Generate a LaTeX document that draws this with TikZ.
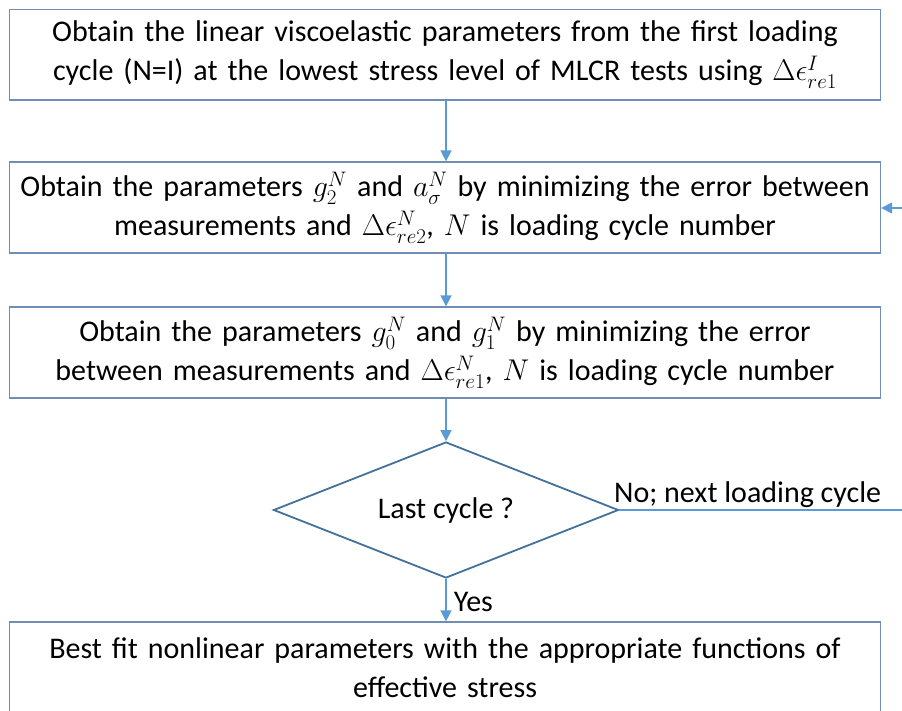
\RequirePackage{fix-cm}
\documentclass[tikz,border=0pt]{standalone}
\usepackage{fontspec}
\setmainfont{Carlito}
\usetikzlibrary{shapes.geometric,arrows.meta}
\definecolor{boxedge}{RGB}{112,141,182}
\definecolor{flowline}{RGB}{91,155,213}
\definecolor{diaedge}{RGB}{65,113,156}
\tikzset{
  txt/.style={font=\fontsize{30pt}{39pt}\selectfont},
  stepbox/.style={txt, draw=boxedge, line width=1.3pt, rectangle, inner sep=0pt,
    minimum width=871pt, text width=868pt, align=center},
  decision/.style={txt, draw=diaedge, line width=1.8pt, diamond, aspect=2.54,
    inner sep=0pt, minimum width=345pt, minimum height=136pt},
  flow/.style={draw=flowline, line width=1.6pt},
  flowarrow/.style={flow, -{Triangle[length=11pt,width=11pt]}},
  lbl/.style={txt, inner sep=0pt}
}
\begin{document}
\begin{tikzpicture}[x=1pt,y=-1pt]
  \useasboundingbox (0,0) rectangle (902,711);
  \clip (0,0) rectangle (902,711);

  \node[stepbox, minimum height=90.5pt] (s1) at (445,54.75)
    {Obtain the linear viscoelastic parameters from the first loading\\
     cycle (N=I) at the lowest stress level of MLCR tests using $\Delta\epsilon^{I}_{re1}$};
  \node[stepbox, minimum height=91pt] (s2) at (445,207.5)
    {Obtain the parameters $g_2^N$ and $a_\sigma^N$ by minimizing the error between\\
     measurements and $\Delta\epsilon^{N}_{re2}$, $N$ is loading cycle number};
  \node[stepbox, minimum height=91pt] (s3) at (445,352.5)
    {Obtain the parameters $g_0^N$ and $g_1^N$ by minimizing the error\\
     between measurements and $\Delta\epsilon^{N}_{re1}$, $N$ is loading cycle number};
  \node[decision] (d) at (446,510) {Last cycle ?};
  \node[stepbox, minimum height=92pt] (s4) at (445,668)
    {Best fit nonlinear parameters with the appropriate functions of\\
     effective stress};

  % main downward flow
  \draw[flowarrow] (s1.south -| d.north) -- (s2.north -| d.north);
  \draw[flowarrow] (s2.south -| d.north) -- (s3.north -| d.north);
  \draw[flowarrow] (s3.south -| d.north) -- (d.north);
  \draw[flowarrow] (d.south) -- (s4.north -| d.south)
    node[lbl, pos=0.55, anchor=west, xshift=7pt] (yes) {Yes};

  % loop back for the next loading cycle
  \coordinate (loopout) at (902,510);
  \coordinate (loopin) at (902,208);
  \draw[flow] (d.east) -- (loopout);
  \node[lbl, anchor=base west] (no) at (614,502) {No; next loading cycle};
  \draw[flowarrow] (loopin) -- (s2.east |- loopin);
\end{tikzpicture}
\end{document}
